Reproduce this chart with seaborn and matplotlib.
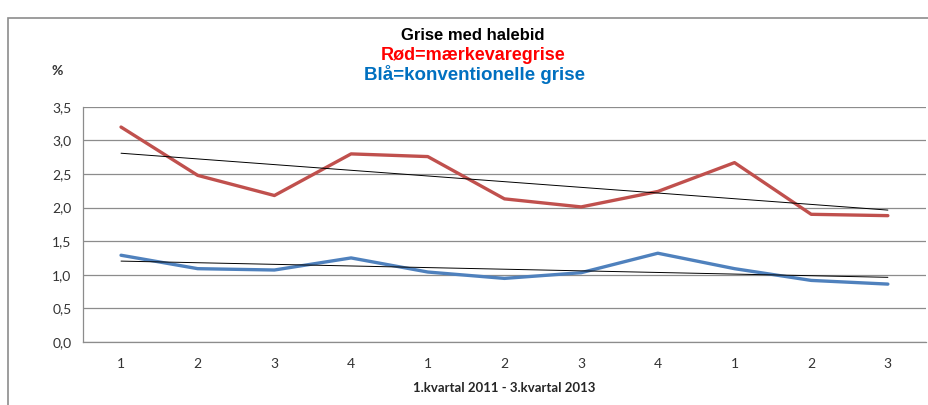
import numpy as np
import pandas as pd
import matplotlib
matplotlib.use('Agg')
import matplotlib.pyplot as plt
from matplotlib.patches import Rectangle
import seaborn as sns

quarters = ['1', '2', '3', '4', '1', '2', '3', '4', '1', '2', '3']
red_vals = [3.20, 2.48, 2.18, 2.80, 2.76, 2.13, 2.01, 2.24, 2.67, 1.90, 1.88]
blue_vals = [1.29, 1.09, 1.07, 1.25, 1.04, 0.945, 1.03, 1.32, 1.09, 0.915, 0.86]

df = pd.DataFrame({'pos': np.arange(len(quarters)), 'red': red_vals, 'blue': blue_vals})

sns.set_style('white')
plt.rcParams['font.family'] = ['Lato', 'DejaVu Sans']

fig = plt.figure(figsize=(9.29, 4.05), dpi=100)
ax = fig.add_axes([0.089, 0.156, 0.908, 0.58])

# outer chart frame
fig.patches.append(Rectangle((8 / 929, -0.01), 1.0, 1 - 18 / 405 + 0.01, transform=fig.transFigure,
                             fill=False, edgecolor='#8c8c8c', linewidth=1.2))

sns.lineplot(data=df, x='pos', y='red', ax=ax, color='#C0504D', linewidth=2.4)
sns.lineplot(data=df, x='pos', y='blue', ax=ax, color='#4F81BD', linewidth=2.4)
sns.regplot(data=df, x='pos', y='red', ax=ax, scatter=False, ci=None, truncate=True,
            line_kws=dict(color='black', linewidth=0.7))
sns.regplot(data=df, x='pos', y='blue', ax=ax, scatter=False, ci=None, truncate=True,
            line_kws=dict(color='black', linewidth=0.7))

ax.set_xlim(-0.5, len(quarters) - 0.5)
ax.set_ylim(0, 3.5)
ax.set_yticks(np.arange(0, 3.51, 0.5))
ax.set_yticklabels([f'{v:.1f}'.replace('.', ',') for v in np.arange(0, 3.51, 0.5)])
ax.set_xticks(df['pos'])
ax.set_xticklabels(quarters)
ax.set_xticks(np.arange(-0.5, len(quarters), 1.0), minor=True)
ax.tick_params(axis='x', which='major', length=0, pad=12, labelsize=10, colors='#333333')
ax.tick_params(axis='x', which='minor', length=5, width=0.8, color='#8c8c8c', direction='out')
ax.tick_params(axis='y', length=5, width=0.8, color='#8c8c8c', direction='out', labelsize=10,
               labelcolor='#333333', pad=3)
ax.grid(axis='y', color='#8c8c8c', linewidth=0.9)
ax.set_axisbelow(True)
for side in ['top', 'right']:
    ax.spines[side].set_visible(False)
for side in ['left', 'bottom']:
    ax.spines[side].set_color('#8c8c8c')
    ax.spines[side].set_linewidth(0.9)

ax.set_xlabel('1.kvartal 2011 - 3.kvartal 2013', fontsize=9.5, fontweight='bold', labelpad=8)
ax.set_ylabel('')

fig.text(473 / 929, 1 - 35 / 405, 'Grise med halebid', ha='center', va='center',
         fontsize=12, fontweight='bold', family='Liberation Sans', color='black')
fig.text(473 / 929, 1 - 55 / 405, 'Rød=mærkevaregrise', ha='center', va='center',
         fontsize=13, fontweight='bold', family='Liberation Sans', color='#FF0000')
fig.text(475 / 929, 1 - 75 / 405, 'Blå=konventionelle grise', ha='center', va='center',
         fontsize=13.5, fontweight='bold', family='Liberation Sans', color='#0070C0')
fig.text(57 / 929, 1 - 71 / 405, '%', ha='center', va='center', fontsize=10, fontweight='bold',
         color='#333333')

fig.savefig('out.png', dpi=100)
